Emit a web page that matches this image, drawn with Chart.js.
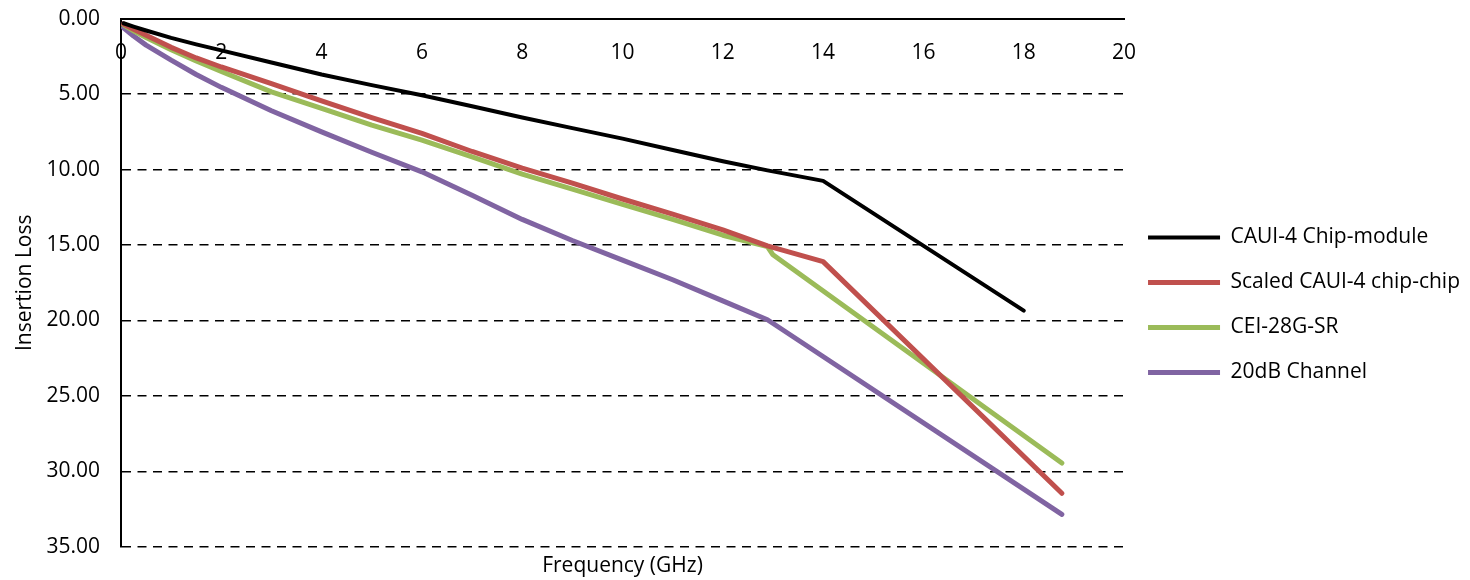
<!DOCTYPE html>
<html>
<head>
<meta charset="utf-8">
<script src="https://cdn.jsdelivr.net/npm/chart.js@4.4.0/dist/chart.umd.min.js"></script>
<style>
html,body{margin:0;padding:0;background:#fff;}
#wrap{width:1470px;height:580px;position:relative;}
</style>
</head>
<body>
<div id="wrap"><canvas id="c" width="1470" height="580"></canvas></div>
<script>
// ---- data ----
const seriesNames = ['CAUI-4 Chip-module', 'Scaled CAUI-4 chip-chip', 'CEI-28G-SR', '20dB Channel'];
const seriesColors = ['#000000', '#C0504D', '#9BBB59', '#8064A2'];

const freqChipModule = [0.05, 0.25, 0.5, 1, 1.5, 2, 3, 4, 5, 6, 7, 8, 9, 10, 11, 12, 12.89, 14, 18];
const lossChipModule = [0.3, 0.52, 0.78, 1.27, 1.7, 2.1, 2.9, 3.7, 4.4, 5.07, 5.8, 6.55, 7.25, 7.95, 8.7, 9.45, 10.05, 10.75, 19.35];

const freqChipChip = [0.05, 0.25, 0.5, 1, 1.5, 2, 3, 4, 5, 6, 7, 8, 9, 10, 11, 12, 12.89, 14, 18.76];
const lossChipChip = [0.35, 0.7, 1.1, 1.9, 2.6, 3.2, 4.3, 5.45, 6.55, 7.6, 8.8, 9.9, 10.9, 11.95, 12.95, 14.0, 15.05, 16.1, 31.45];

const freqCei = [0.05, 0.25, 0.5, 1, 1.5, 2, 3, 4, 5, 6, 7, 8, 9, 10, 11, 12, 12.89, 13.0, 18.76];
const lossCei = [0.4, 0.8, 1.25, 2.05, 2.8, 3.5, 4.85, 5.95, 7.05, 8.05, 9.15, 10.3, 11.3, 12.3, 13.3, 14.35, 15.1, 15.65, 29.45];

const freq20dB = [0.05, 0.25, 0.5, 1, 1.5, 2, 3, 4, 5, 6, 7, 8, 9, 10, 11, 12, 12.89, 18.76];
const loss20dB = [0.6, 1.15, 1.75, 2.75, 3.7, 4.55, 6.1, 7.5, 8.85, 10.15, 11.7, 13.3, 14.7, 16.0, 17.3, 18.7, 19.95, 32.85];

const xMin = 0, xMax = 20, xStep = 2;
const yMin = 0, yMax = 35, yStep = 5;
const xTitle = 'Frequency (GHz)';
const yTitle = 'Insertion Loss';

// ---- build ----
function pts(xs, ys) { return xs.map((x, i) => ({ x: x, y: ys[i] })); }
const seriesData = [
  pts(freqChipModule, lossChipModule),
  pts(freqChipChip, lossChipChip),
  pts(freqCei, lossCei),
  pts(freq20dB, loss20dB)
];
const widths = [4, 5, 5, 5];

const FONT = "'Open Sans', sans-serif";
const FS = 21;
Chart.defaults.font.family = FONT;
Chart.defaults.font.size = FS;
Chart.defaults.color = '#000';

new Chart(document.getElementById('c'), {
  type: 'line',
  data: {
    datasets: seriesNames.map((name, i) => ({
      label: name,
      data: seriesData[i],
      borderColor: seriesColors[i],
      backgroundColor: seriesColors[i],
      borderWidth: widths[i],
      pointRadius: 0,
      pointHoverRadius: 0,
      tension: 0,
      fill: false,
      borderCapStyle: 'round',
      borderJoinStyle: 'round'
    }))
  },
  options: {
    responsive: false,
    animation: false,
    devicePixelRatio: 1,
    layout: { padding: { left: 0, top: 18.7, right: 0, bottom: 0 } },
    plugins: {
      tooltip: { enabled: false },
      legend: {
        position: 'right',
        align: 'center',
        title: { display: true, text: '', font: { size: 1 }, padding: { top: 10, bottom: 0 } },
        labels: {
          usePointStyle: true,
          pointStyle: 'line',
          pointStyleWidth: 72,
          padding: 24,
          color: '#000',
          font: { family: FONT, size: FS }
        }
      }
    },
    scales: {
      x: {
        type: 'linear',
        min: xMin, max: xMax,
        position: { y: 0 },
        afterFit: (s) => { s.height = 0; },
        ticks: { stepSize: xStep, padding: 22, maxRotation: 0, color: '#000', font: { size: FS } },
        grid: { display: false, drawTicks: false },
        border: { display: true, color: '#000', width: 2 },
        title: { display: false }
      },
      x2: {
        type: 'linear',
        axis: 'x',
        position: 'bottom',
        min: xMin, max: xMax,
        ticks: { display: false },
        grid: { display: false, drawTicks: false },
        border: { display: false },
        title: { display: true, text: xTitle, color: '#000', font: { size: FS }, padding: { top: 7, bottom: 1 } }
      },
      y: {
        type: 'linear',
        reverse: true,
        min: yMin, max: yMax,
        afterFit: (s) => { s.width = 121; s.paddingTop = 0; s.paddingBottom = 0; },
        ticks: { stepSize: yStep, padding: 21, color: '#000', font: { size: FS }, callback: v => Number(v).toFixed(2) },
        grid: { color: '#000', lineWidth: 1.5, drawTicks: false },
        border: { display: true, color: '#000', width: 2, dash: [9, 6.5] },
        title: { display: true, text: yTitle, color: '#000', font: { size: FS }, padding: { top: 12, bottom: 4 } }
      }
    }
  }
});
</script>
</body>
</html>
